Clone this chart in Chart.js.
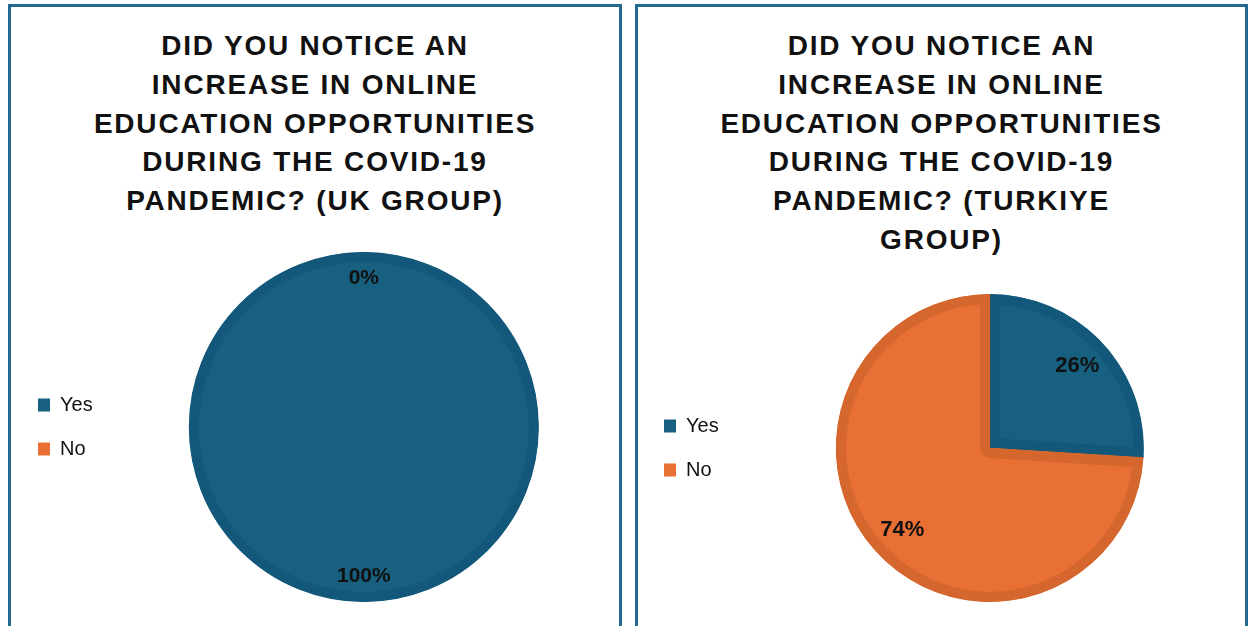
<!DOCTYPE html>
<html>
<head>
<meta charset="utf-8">
<script src="https://cdn.jsdelivr.net/npm/chart.js@4.4.1/dist/chart.umd.min.js"></script>
<style>
  body { margin: 0; width: 1248px; height: 626px; overflow: hidden; background: #fff; position: relative;
         font-family: "Liberation Sans", Arial, sans-serif; }
  .panel { position: absolute; top: 4px; height: 660px; border: 3px solid #24698f; box-sizing: border-box; }
  #panelUK { left: 8px; width: 614px; }
  #panelTR { left: 635px; width: 613px; }
  .title { position: absolute; left: 0; right: 0; top: 20px; text-align: center; font-weight: bold;
           font-size: 28px; line-height: 38.8px; letter-spacing: 1.8px; color: #111; }
  canvas { position: absolute; }
</style>
</head>
<body>
<div class="panel" id="panelUK"><div class="title" id="titleUK"></div></div>
<div class="panel" id="panelTR"><div class="title" id="titleTR"></div></div>
<canvas id="pieUK" width="620" height="386" style="left:10px; top:240px"></canvas>
<canvas id="pieTR" width="620" height="366" style="left:638px; top:260px"></canvas>
<script>
// data
const categories = ['Yes', 'No'];
const ukValues = [100, 0];
const trValues = [26, 74];
const ukTitle = ['DID YOU NOTICE AN', 'INCREASE IN ONLINE', 'EDUCATION OPPORTUNITIES', 'DURING THE COVID-19', 'PANDEMIC? (UK GROUP)'];
const trTitle = ['DID YOU NOTICE AN', 'INCREASE IN ONLINE', 'EDUCATION OPPORTUNITIES', 'DURING THE COVID-19', 'PANDEMIC? (TURKIYE', 'GROUP)'];

const fillColors = ['#17607F', '#E87034'];
const edgeColors = ['#13587A', '#D5662E'];
const edgeWidth = 10;

document.getElementById('titleUK').innerHTML = ukTitle.join('<br>');
document.getElementById('titleTR').innerHTML = trTitle.join('<br>');

const sum = (arr) => arr.reduce((a, b) => a + b, 0);

// a slice that fills the whole pie gets its edge as a plain ring (the arc border would leave a seam)
const fullRing = {
	id: 'fullRing',
	afterDatasetsDraw(chart) {
		const ctx = chart.ctx;
		chart.getDatasetMeta(0).data.forEach((arc, i) => {
			const { x, y, circumference, outerRadius } = arc.getProps(['x', 'y', 'circumference', 'outerRadius']);
			if (circumference < Math.PI * 2 - 1e-6) return;
			ctx.save();
			ctx.lineWidth = edgeWidth;
			ctx.strokeStyle = edgeColors[i];
			ctx.beginPath();
			ctx.arc(x, y, outerRadius - edgeWidth / 2, 0, Math.PI * 2);
			ctx.stroke();
			ctx.restore();
		});
	}
};

// percentage labels on the slices
const pctLabels = {
	id: 'pctLabels',
	afterDatasetsDraw(chart, args, opts) {
		const ctx = chart.ctx;
		const meta = chart.getDatasetMeta(0);
		const values = chart.data.datasets[0].data;
		const total = sum(values);
		ctx.save();
		ctx.font = opts.font;
		ctx.fillStyle = '#111';
		ctx.textAlign = 'center';
		ctx.textBaseline = 'middle';
		meta.data.forEach((arc, i) => {
			const { x, y, startAngle, endAngle, outerRadius } = arc.getProps(['x', 'y', 'startAngle', 'endAngle', 'outerRadius']);
			const mid = (startAngle + endAngle) / 2;
			const r = outerRadius * opts.at;
			ctx.fillText(Math.round(values[i] / total * 100) + '%', x + Math.cos(mid) * r, y + Math.sin(mid) * r);
		});
		ctx.restore();
	}
};

const baseLabels = (Chart.overrides.doughnut || Chart.overrides.pie).plugins.legend.labels.generateLabels;

const makePie = (id, values, o) => {
	return new Chart(document.getElementById(id), {
		type: 'pie',
		data: {
			labels: categories,
			datasets: [{
				data: values,
				backgroundColor: fillColors,
				borderColor: edgeColors,
				borderWidth: (c) => (c.dataset.data[c.dataIndex] === sum(c.dataset.data) ? 0 : edgeWidth),
				borderAlign: 'inner',
				hoverOffset: 0
			}]
		},
		options: {
			responsive: false,
			animation: false,
			events: [],
			layout: { padding: o.padding },
			plugins: {
				legend: {
					position: 'left',
					labels: {
						color: '#111',
						font: { family: 'Liberation Sans', size: 20 },
						boxWidth: 12,
						boxHeight: 13,
						padding: 24,
						generateLabels(chart) {
							return baseLabels(chart).map(item => Object.assign(item, {
								fillStyle: fillColors[item.index],
								strokeStyle: fillColors[item.index],
								lineWidth: 0
							}));
						}
					}
				},
				tooltip: { enabled: false },
				pctLabels: { font: o.labelFont, at: o.at }
			}
		},
		plugins: [fullRing, pctLabels]
	});
}

makePie('pieUK', ukValues, {
	padding: { left: 4, right: 5, top: 12, bottom: 24 },
	labelFont: 'bold 21px "Liberation Sans"',
	at: 0.85
});
makePie('pieTR', trValues, {
	padding: { left: 2, right: 7, top: 34, bottom: 24 },
	labelFont: 'bold 22px "Liberation Sans"',
	at: 0.78
});
</script>
</body>
</html>
